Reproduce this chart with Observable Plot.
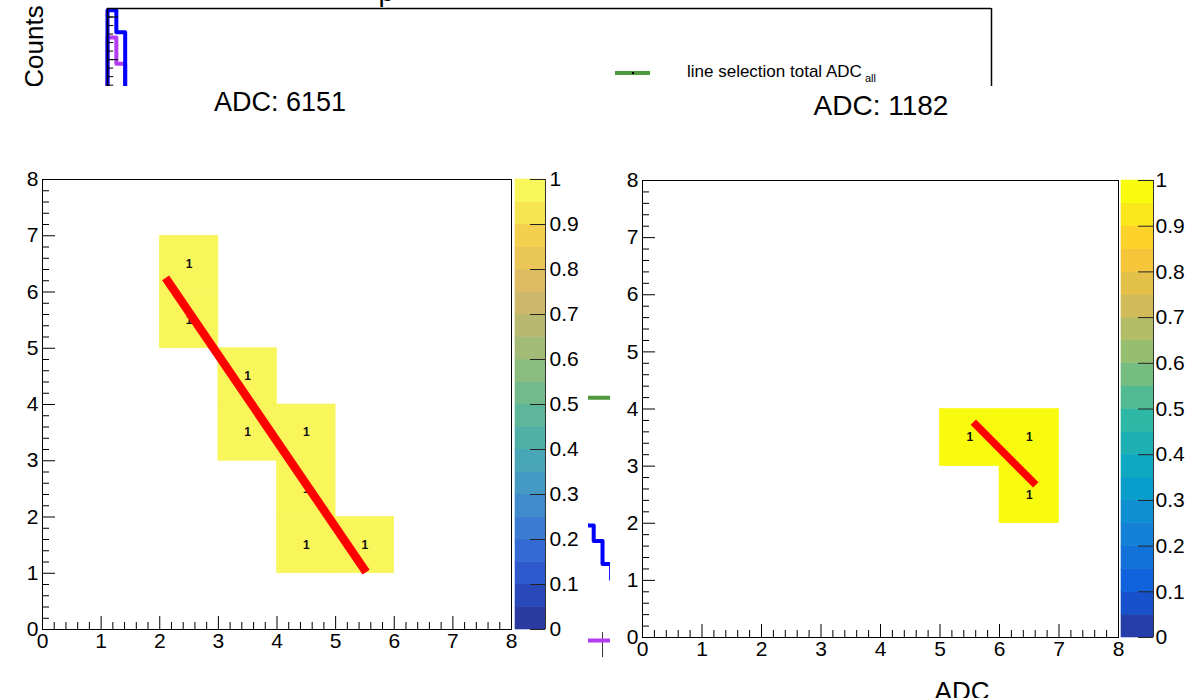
<!DOCTYPE html>
<html>
<head>
<meta charset="utf-8">
<script src="https://cdn.jsdelivr.net/npm/d3@7"></script>
<script src="https://cdn.jsdelivr.net/npm/@observablehq/plot@0.6"></script>
<style>
  html, body { margin: 0; padding: 0; background: #fff; }
  #page { position: relative; width: 1203px; height: 698px; overflow: hidden;
          font-family: "Liberation Sans", Arial, Helvetica, sans-serif; color: #000; }
  .abs { position: absolute; }
  .pad { position: absolute; background: #fff; }
  .txt { position: absolute; line-height: 1; white-space: nowrap; }
  .ctr { transform: translateX(-50%); }
  svg { display: block; overflow: visible; }
</style>
</head>
<body>
<div id="page">
  <div id="bg" class="abs" style="left:0;top:0"></div>
  <div id="legendKey" class="abs" style="left:615px;top:71px;width:35px;height:4px;background:#4f9a3f"></div>
  <div class="abs" style="left:632px;top:72px;width:2px;height:2px;background:#000"></div>
  <div id="legendText" class="txt" style="left:687px;top:62.6px;font-size:17px"></div>
  <div id="legendSub" class="txt" style="left:865px;top:72.7px;font-size:11px"></div>
  <div class="pad" style="left:0;top:86px;width:588px;height:612px"></div>
  <div class="pad" style="left:610px;top:86px;width:593px;height:612px"></div>
  <div id="leftPanel" class="abs" style="left:0;top:86px"></div>
  <div id="leftBar" class="abs" style="left:515px;top:86px"></div>
  <div id="rightPanel" class="abs" style="left:610px;top:86px"></div>
  <div id="rightBar" class="abs" style="left:1121px;top:86px"></div>
  <div id="leftTitle" class="txt ctr" style="left:280px;top:89.1px;font-size:27px"></div>
  <div id="rightTitle" class="txt ctr" style="left:881px;top:92.3px;font-size:28px"></div>
  <div id="xTitle" class="txt ctr" style="left:962px;top:678px;font-size:26px"></div>
</div>
<script>
const FONT = '"Liberation Sans", Arial, Helvetica, sans-serif';

// ---------------- data ----------------
const leftTitle = "ADC: 6151";
const rightTitle = "ADC: 1182";
const xAxisTitle = "ADC";
const yAxisTitle = "Counts";
const legendLabel = "line selection total ADC";
const legendSub = "all";

// left event display (cells = 1x1 bins, lower-left corner)
const leftCellX = [2, 2, 3, 3, 4, 4, 4, 5];
const leftCellY = [6, 5, 4, 3, 3, 2, 1, 1];
const leftCellV = [1, 1, 1, 1, 1, 1, 1, 1];
const leftFitX = [2.10, 5.52];
const leftFitY = [6.25, 1.02];

// right event display
const rightCellX = [5, 6, 6];
const rightCellY = [3, 3, 2];
const rightCellV = [1, 1, 1];
const rightFitX = [5.56, 6.61];
const rightFitY = [3.77, 2.67];

// axes
const axisTicks = [0, 1, 2, 3, 4, 5, 6, 7, 8];
const colorbarTicks = [0, 0.1, 0.2, 0.3, 0.4, 0.5, 0.6, 0.7, 0.8, 0.9, 1];

// palettes (bottom -> top)
const leftPalette = ["#2b3a9e","#2a49b8","#2e59cc","#346ad4","#3b7bd1","#408bcb","#449ac2","#49a6b6",
  "#50b0a8","#5db69a","#72ba8c","#8bbd80","#a2bb77","#b8b870","#cdb76a","#ddbb63","#eac658",
  "#f3d04e","#f6e450","#f8f65a"];
const birdStops = ["#352a87","#0f5cdd","#1481d6","#06a4ca","#2eb7a4","#87bf77","#d1bb59","#fec832","#f9fb0e"];

// background (occluded) histogram, step data
const bgEdges  = [0, 1, 2, 54, 55, 56, 57];
const bgBlue   = [80.8, 78.2, 40, 20.3, 18.5, 15.8];
const bgPurple = [77.6, 74.5, 22, 6.8, 6.8, 6.8];
const bgGreen  = [55, 50, 42, 35.3, 35.3, 35.3];
const bgErrX = [56], bgErrLo = [4.8], bgErrHi = [7.75];
const bgBlueErrX = [56.8], bgBlueErrLo = [13.8], bgBlueErrHi = [15.8];

// ---------------- helpers ----------------
const NB = 20;
const birdInterp = d3.piecewise(d3.interpolateRgb, birdStops);
const rightPalette = d3.range(NB).map(i => d3.color(birdInterp((i + 1) / NB)).formatHex());
const colorOf = (v, pal) => pal[Math.min(NB - 1, Math.floor(v * NB))];

function stepPoints(edges, counts) {
  const pts = [{x: edges[0], y: 0}];
  counts.forEach((c, i) => pts.push({x: edges[i], y: c}));
  pts.push({x: edges[edges.length - 1], y: counts[counts.length - 1]});
  return pts;
}

function panel(o) {
  const cells = o.cx.map((x, i) => ({x, y: o.cy[i], x2: x + 1, y2: o.cy[i] + 1,
    mx: x + 0.5, my: o.cy[i] + 0.5, v: o.cv[i], fill: colorOf(o.cv[i], o.palette)}));
  const fit = o.fx.map((x, i) => ({x, y: o.fy[i]}));
  const fw = o.width - o.mL - o.mR, fh = o.height - o.mT - o.mB;
  const uy = fh / 8, ux = fw / 8;
  const minor = d3.range(0, 8, 0.2).filter(d => Math.abs(d - Math.round(d)) > 1e-6);
  return Plot.plot({
    width: o.width, height: o.height,
    marginLeft: o.mL, marginRight: o.mR, marginTop: o.mT, marginBottom: o.mB,
    x: {domain: [0, 8], label: null},
    y: {domain: [0, 8], label: null},
    color: {type: "identity"},
    style: {background: "transparent", color: "#000", fontFamily: FONT, fontSize: o.fs + "px"},
    marks: [
      Plot.rect(cells, {x1: "x", x2: "x2", y1: "y", y2: "y2", fill: "fill", stroke: "fill", strokeWidth: 0.6}),
      Plot.text(cells, {x: "mx", y: "my", text: d => String(d.v), fontSize: 12, fontWeight: "bold", fill: "#111"}),
      Plot.line(fit, {x: "x", y: "y", stroke: "#ff0000", strokeWidth: o.lw, strokeLinecap: "butt"}),
      Plot.ruleX(axisTicks, {x: d => d, y1: 0, y2: 13 / uy, stroke: "#000"}),
      Plot.ruleX(minor, {x: d => d, y1: 0, y2: 7 / uy, stroke: "#000"}),
      Plot.ruleY(axisTicks, {y: d => d, x1: 0, x2: 13 / ux, stroke: "#000"}),
      Plot.ruleY(minor, {y: d => d, x1: 0, x2: 7 / ux, stroke: "#000"}),
      Plot.frame({stroke: "#000"}),
      Plot.axisX({ticks: axisTicks, tickSize: 0, tickPadding: 4, tickFormat: d => String(d), label: null, fontSize: o.fs}),
      Plot.axisY({ticks: axisTicks, tickSize: 0, tickPadding: 4, tickFormat: d => String(d), label: null, fontSize: o.fs})
    ]
  });
}

function colorbar(o) {
  const bands = o.palette.map((c, i) => ({lo: i / NB, hi: (i + 1) / NB, color: c}));
  const tickStart = 1 - 15 / o.barW;
  return Plot.plot({
    width: o.barW + o.mR, height: o.height,
    marginLeft: 0, marginRight: o.mR, marginTop: o.mT, marginBottom: o.mB,
    x: {domain: [0, 1], axis: null},
    y: {domain: [0, 1], label: null},
    color: {type: "identity"},
    style: {background: "transparent", color: "#000", fontFamily: FONT, fontSize: o.fs + "px"},
    marks: [
      Plot.rect(bands, {x1: 0, x2: 1, y1: "lo", y2: "hi", fill: "color", stroke: "color", strokeWidth: 0.6}),
      Plot.ruleY(colorbarTicks, {y: d => d, x1: tickStart, x2: 1, stroke: "#222"}),
      Plot.ruleX([1], {y1: 0, y2: 1, stroke: "#333"}),
      Plot.axisY({anchor: "right", ticks: colorbarTicks, tickSize: 0, tickPadding: o.pad,
        tickFormat: d => String(d), label: null, fontSize: o.fs})
    ]
  });
}

// ---------------- background chart ----------------
const bgMinor = d3.range(0, 82);
const bgMajor = bgMinor.filter(d => d % 5 === 0);
const bg = Plot.plot({
  width: 1203, height: 698,
  marginLeft: 107, marginRight: 212, marginTop: 8, marginBottom: 0,
  x: {domain: [0, 100], axis: null},
  y: {domain: [0, 81], axis: null},
  style: {background: "transparent", color: "#000", fontFamily: FONT},
  marks: [
    Plot.line(stepPoints(bgEdges, bgGreen), {x: "x", y: "y", curve: "step-after", stroke: "#4f9a3f", strokeWidth: 4}),
    Plot.ruleX(bgErrX, {x: d => d, y1: (d, i) => bgErrLo[i], y2: (d, i) => bgErrHi[i], stroke: "#333", strokeWidth: 1}),
    Plot.line(stepPoints(bgEdges, bgPurple), {x: "x", y: "y", curve: "step-after", stroke: "#b43cf0", strokeWidth: 4}),
    Plot.ruleX(bgBlueErrX, {x: d => d, y1: (d, i) => bgBlueErrLo[i], y2: (d, i) => bgBlueErrHi[i], stroke: "#0000ff", strokeWidth: 1}),
    Plot.line(stepPoints(bgEdges, bgBlue), {x: "x", y: "y", curve: "step-after", stroke: "#0000ff", strokeWidth: 4}),
    Plot.ruleY(bgMinor, {y: d => d, x1: 0, x2: 0.7, stroke: "#000"}),
    Plot.ruleY(bgMajor, {y: d => d, x1: 0, x2: 1.25, stroke: "#000"}),
    Plot.ruleY([81], {y: d => d, x1: 0, x2: 100, stroke: "#000", strokeWidth: 1.5}),
    Plot.ruleX([0, 100], {x: d => d, y1: 60, y2: 81, stroke: "#000", strokeWidth: 1.5}),
    Plot.text([yAxisTitle], {text: d => d, frameAnchor: "top-left", dx: -65, dy: 38, rotate: -90,
      lineAnchor: "bottom", textAnchor: "middle", fontSize: 26, fill: "#000"}),
    Plot.text(["p"], {text: d => d, frameAnchor: "top-left", dx: 271, dy: -8,
      lineAnchor: "bottom", textAnchor: "start", fontSize: 28, fill: "#000"})
  ]
});
document.getElementById("bg").append(bg);

document.getElementById("legendText").textContent = legendLabel;
document.getElementById("legendSub").textContent = legendSub;
document.getElementById("leftTitle").textContent = leftTitle;
document.getElementById("rightTitle").textContent = rightTitle;
document.getElementById("xTitle").textContent = xAxisTitle;

// ---------------- panels ----------------
document.getElementById("leftPanel").append(panel({
  cx: leftCellX, cy: leftCellY, cv: leftCellV, fx: leftFitX, fy: leftFitY, palette: leftPalette,
  width: 515, height: 612, mL: 42, mR: 4, mT: 93, mB: 69, lw: 8.5, fs: 21
}));
document.getElementById("leftBar").append(colorbar({
  palette: leftPalette, barW: 30, mR: 48, height: 612, mT: 93, mB: 69, fs: 21, pad: 4
}));
document.getElementById("rightPanel").append(panel({
  cx: rightCellX, cy: rightCellY, cv: rightCellV, fx: rightFitX, fy: rightFitY, palette: rightPalette,
  width: 511, height: 612, mL: 32, mR: 3, mT: 94, mB: 61, lw: 7.5, fs: 21
}));
document.getElementById("rightBar").append(colorbar({
  palette: rightPalette, barW: 32, mR: 50, height: 612, mT: 94, mB: 61, fs: 21, pad: 2
}));
</script>
</body>
</html>
